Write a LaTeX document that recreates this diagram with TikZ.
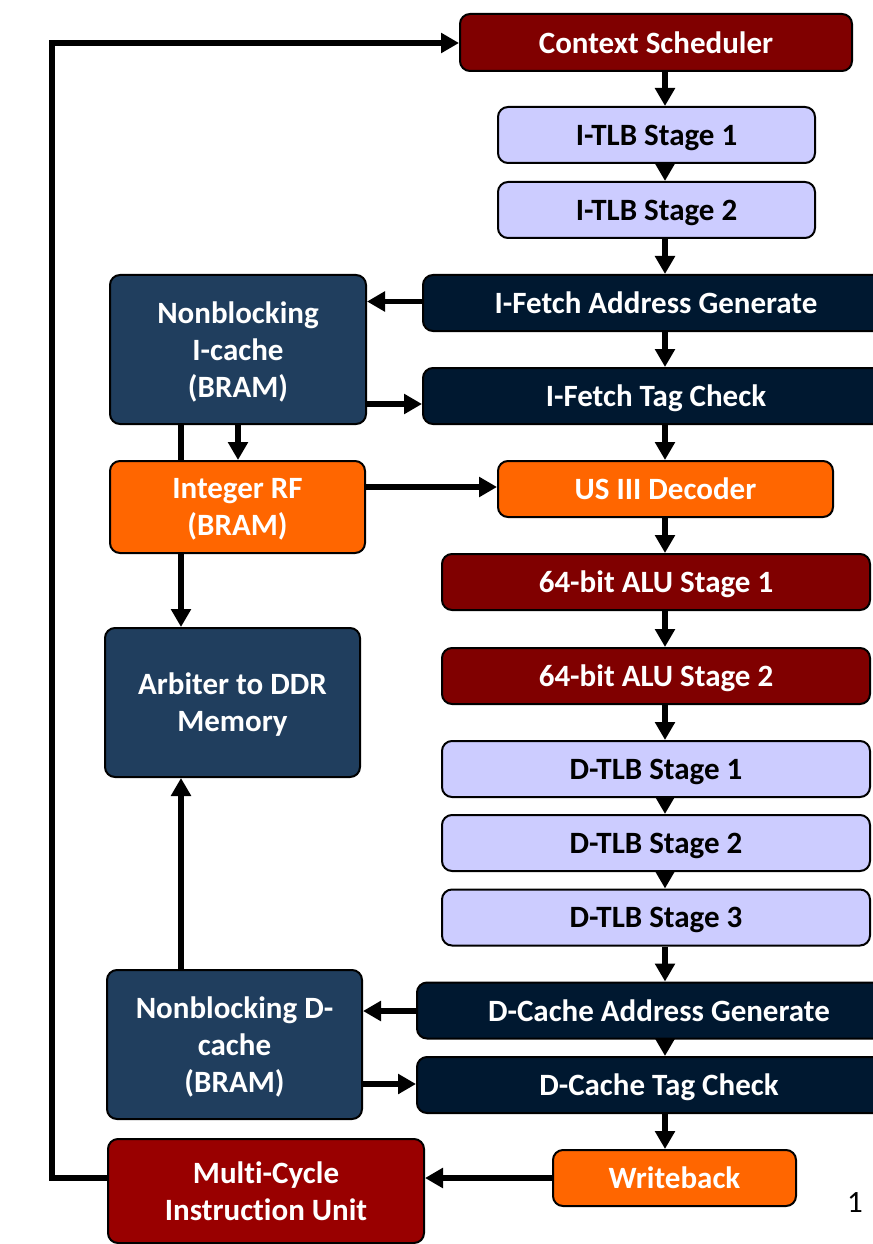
\documentclass[tikz,border=0pt]{standalone}
\usepackage{fontspec}
\setmainfont{Carlito}[Ligatures=NoCommon]
\usetikzlibrary{arrows.meta}
\pgfdeclarelayer{bg}
\pgfsetlayers{bg,main}
\definecolor{cred}{HTML}{800000}
\definecolor{mred}{HTML}{990000}
\definecolor{lav}{HTML}{CCCCFF}
\definecolor{navy}{HTML}{001830}
\definecolor{steel}{HTML}{203E5E}
\definecolor{orng}{HTML}{FF6600}
\tikzset{
  box/.style={draw=black, line width=1.5pt, rounded corners=7.5pt, inner sep=0pt,
    align=center, text=white, text depth=0pt,
    font=\fontsize{23.25pt}{27.75pt}\selectfont\bfseries},
  lbox/.style={box, fill=lav, text=black},
  arr/.style={line width=4.25pt, -{Triangle[length=13.5pt,width=14.5pt]}}
}
\begin{document}
\begin{tikzpicture}[x=0.75pt,y=-0.75pt]
\clip (0,0) rectangle (873,1244);
\begin{pgfonlayer}{bg}
\fill[white] (0,0) rectangle (873,1244);
\end{pgfonlayer}
\coordinate (colx) at (665,0);
% right column
\node[box, fill=cred, minimum width=294pt, minimum height=42.75pt] (cs) at (656,42.5) {Context Scheduler};
\node[lbox, minimum width=237.75pt, minimum height=42pt] (itlb1) at (656.5,135) {I-TLB Stage 1};
\node[lbox, minimum width=237.75pt, minimum height=42pt] (itlb2) at (656.5,210) {I-TLB Stage 2};
\node[box, fill=navy, minimum width=349.5pt, minimum height=42pt] (ifag) at (656,303) {I-Fetch Address Generate};
\node[box, fill=navy, minimum width=349.5pt, minimum height=42pt] (iftc) at (656,396) {I-Fetch Tag Check};
\node[box, fill=orng, minimum width=251.25pt, minimum height=42pt] (us3) at (665.5,489) {US III Decoder};
\node[box, fill=cred, minimum width=321pt, minimum height=42pt] (alu1) at (656,582) {64-bit ALU Stage 1};
\node[box, fill=cred, minimum width=321pt, minimum height=42pt] (alu2) at (656,676) {64-bit ALU Stage 2};
\node[lbox, minimum width=321pt, minimum height=42pt] (dtlb1) at (656,769) {D-TLB Stage 1};
\node[lbox, minimum width=321pt, minimum height=42pt] (dtlb2) at (656,843) {D-TLB Stage 2};
\node[lbox, minimum width=321pt, minimum height=42pt] (dtlb3) at (656,917.5) {D-TLB Stage 3};
\node[box, fill=navy, minimum width=363pt, minimum height=42pt] (dcag) at (659,1010.5) {D-Cache Address Generate};
\node[box, fill=navy, minimum width=363pt, minimum height=42pt] (dctc) at (659,1085) {D-Cache Tag Check};
\node[box, fill=orng, minimum width=182.25pt, minimum height=42pt] (wb) at (674.5,1178) {Writeback};
% left column
\node[box, fill=steel, minimum width=192pt, minimum height=111.75pt] (icache) at (238,349.5) {Nonblocking\\I-cache\\(BRAM)};
\node[box, fill=orng, minimum width=191.25pt, minimum height=69pt] (irf) at (237.5,507) {Integer RF\\(BRAM)};
\node[box, fill=steel, minimum width=191.25pt, minimum height=111.75pt] (arb) at (232.5,702.5) {Arbiter to DDR\\Memory};
\node[box, fill=steel, minimum width=191.25pt, minimum height=111.75pt] (dcache) at (234.5,1044.5) {Nonblocking D-\\cache\\(BRAM)};
\node[box, fill=mred, minimum width=237pt, minimum height=78pt] (mciu) at (266,1191) {Multi-Cycle\\Instruction Unit};
\node[font=\fontsize{23.25pt}{27.75pt}\selectfont, text depth=0pt, inner sep=0pt] (pg) at (855,1203) {1};
% connectors
\coordinate (lx) at (181,0);
\begin{pgfonlayer}{bg}
\draw[arr] (icache.south -| lx) -- (arb.north -| lx);
\end{pgfonlayer}
\draw[arr] (cs.south -| colx) -- (itlb1.north -| colx);
\draw[arr] (itlb1.south -| colx) -- (itlb2.north -| colx);
\draw[arr] (itlb2.south -| colx) -- (ifag.north -| colx);
\draw[arr] (ifag.south -| colx) -- (iftc.north -| colx);
\draw[arr] (iftc.south -| colx) -- (us3.north -| colx);
\draw[arr] (us3.south -| colx) -- (alu1.north -| colx);
\draw[arr] (alu1.south -| colx) -- (alu2.north -| colx);
\draw[arr] (alu2.south -| colx) -- (dtlb1.north -| colx);
\draw[arr] (dtlb1.south -| colx) -- (dtlb2.north -| colx);
\draw[arr] (dtlb2.south -| colx) -- (dtlb3.north -| colx);
\draw[arr] (dtlb3.south -| colx) -- (dcag.north -| colx);
\draw[arr] (dcag.south -| colx) -- (dctc.north -| colx);
\draw[arr] (dctc.south -| colx) -- (wb.north -| colx);
\coordinate (y1) at (0,301.5);
\coordinate (y2) at (0,404);
\coordinate (y3) at (0,487);
\coordinate (y4) at (0,1011);
\coordinate (y5) at (0,1084);
\coordinate (x2) at (238,0);
\draw[arr] (ifag.west |- y1) -- (icache.east |- y1);
\draw[arr] (icache.east |- y2) -- (iftc.west |- y2);
\draw[arr] (icache.south -| x2) -- (irf.north -| x2);
\draw[arr] (irf.east |- y3) -- (us3.west |- y3);
\draw[arr] (dcag.west |- y4) -- (dcache.east |- y4);
\draw[arr] (dcache.east |- y5) -- (dctc.west |- y5);
\draw[arr] (dcache.north -| lx) -- (arb.south -| lx);
\draw[arr] (wb.west) -- (mciu.east |- wb.west);
\coordinate (loopb) at (52,1178);
\coordinate (loopt) at (52,43);
\draw[arr] (mciu.west |- loopb) -- (loopb) -- (loopt) -- (cs.west |- loopt);
\end{tikzpicture}
\end{document}
